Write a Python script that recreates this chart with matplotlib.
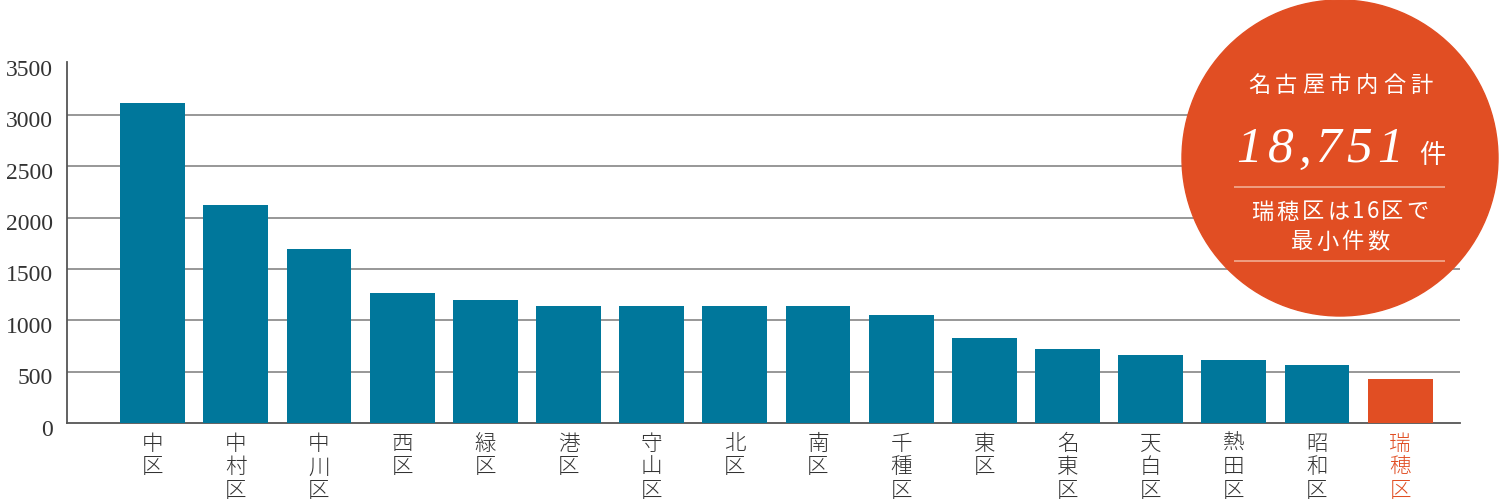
"""plot.py — 名古屋市 区別件数 bar chart"""
import matplotlib
matplotlib.use("Agg")
import matplotlib.pyplot as plt
import matplotlib.transforms as mtrans
from matplotlib.patches import Circle

# data
wards  = ["中区", "中村区", "中川区", "西区", "緑区", "港区", "守山区", "北区",
          "南区", "千種区", "東区", "名東区", "天白区", "熱田区", "昭和区", "瑞穂区"]
counts = [3120, 2120, 1691, 1270, 1198, 1142, 1142, 1142,
          1142, 1051, 826, 721, 659, 610, 561, 429]
highlight = "瑞穂区"
yticks = [0, 500, 1000, 1500, 2000, 2500, 3000, 3500]

total_label = "18,751"
total_unit  = "件"
circle_title = "名古屋市内合計"
circle_note  = ["瑞穂区は16区で", "最小件数"]

TEAL, ORANGE, TXT = "#00779b", "#e14e23", "#333333"
CJK = ["Noto Sans CJK JP", "DejaVu Sans"]
plt.rcParams["font.family"] = CJK

W, H = 1500, 501
fig = plt.figure(figsize=(W / 100, H / 100), dpi=100)
ax = fig.add_axes([67 / W, 1 - 423 / H, (1460 - 67) / W, (423 - 62) / H])

x = list(range(len(wards)))
colors = [ORANGE if w == highlight else TEAL for w in wards]
ax.bar(x, counts, width=0.78, color=colors, zorder=3)

ax.set_xlim(-1.03, 15.72)
ax.set_ylim(0, 3516)
ax.hlines(yticks[1:-1], -1.03, 15.72, color="#8f8f8f", lw=1.3, zorder=1)

ax.set_yticks(yticks)
ax.set_yticklabels([str(v) for v in yticks], family="Liberation Serif",
                   fontsize=17, color=TXT)
ax.tick_params(axis="y", length=0, pad=10)
shift = mtrans.ScaledTranslation(0, -0.045, fig.dpi_scale_trans)
for lbl in ax.get_yticklabels():
    lbl.set_transform(lbl.get_transform() + shift)
ax.set_xticks([])
for s in ("top", "right"):
    ax.spines[s].set_visible(False)
for s in ("left", "bottom"):
    ax.spines[s].set_color("#555555")
    ax.spines[s].set_linewidth(1.3)

# vertical ward names under each bar
trans = ax.get_xaxis_transform()
for xi, w in zip(x, wards):
    ax.text(xi, -0.028, "\n".join(w), transform=trans, ha="center", va="top",
            fontsize=15.5, linespacing=1.08, weight="light",
            color=ORANGE if w == highlight else TXT)

# summary circle in pixel space
ov = fig.add_axes([0, 0, 1, 1], facecolor="none")
ov.set_xlim(0, W); ov.set_ylim(H, 0); ov.axis("off")


def spaced(s, cx, y, pitch, narrow=0.55, comma=0.55, **kw):
    """draw s one glyph at a time with wide tracking, centred on cx"""
    units = [comma if c in ",." else (narrow if ord(c) < 256 else 1.0) for c in s]
    left = cx - pitch * sum(units) / 2
    for c, u in zip(s, units):
        ov.text(left + pitch * u / 2, y, c, ha="center", zorder=6, **kw)
        left += pitch * u


cx, cy, r = 1340, 158, 158
ov.add_patch(Circle((cx, cy), r, color=ORANGE, zorder=5))
spaced(circle_title, cx, 85, 27, color="white", fontsize=16, va="center")
spaced(total_label, 1320, 162, 31, narrow=1.0, color="white",
       family="Liberation Serif", style="italic", fontsize=37, va="baseline")
ov.text(1432, 163, total_unit, ha="center", va="baseline", color="white",
        fontsize=19, zorder=6)
ov.hlines([187, 261], 1234, 1445, color="#f3b49c", lw=1.1, zorder=6)
for i, line in enumerate(circle_note):
    spaced(line, cx, 212 + 30 * i, 25.5, color="white", fontsize=16,
           va="center")

fig.savefig("out.png", dpi=100)
